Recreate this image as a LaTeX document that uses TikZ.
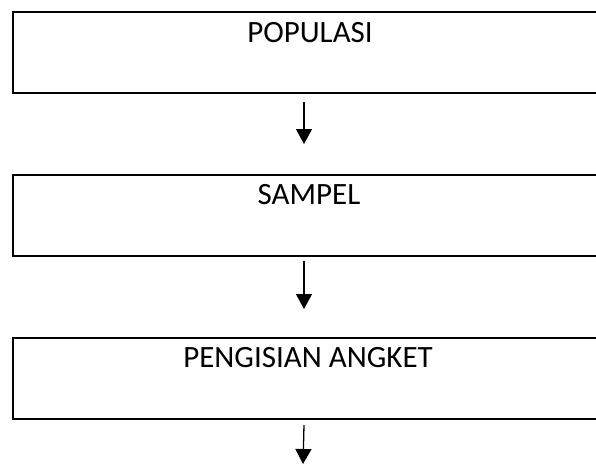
\documentclass[tikz,border=0pt]{standalone}
\usepackage{fontspec}
\setmainfont{Carlito}
\usetikzlibrary{arrows.meta}
\begin{document}
\begin{tikzpicture}[x=1pt,y=-1pt,
  stage/.style={draw, line width=2pt, minimum width=596pt, minimum height=81pt,
                inner sep=0pt, anchor=north west},
  caption/.style={font=\fontsize{31}{36}\selectfont, anchor=base, inner sep=0pt},
  flow/.style={line width=1.3pt, -{Triangle[width=16pt,length=15pt]}}]
\useasboundingbox (0,0) rectangle (596,464);
\clip (0,0) rectangle (596,464);

% stage boxes
\node[stage] (b1) at (12,11.3) {};
\node[stage] (b2) at (12,174) {};
\node[stage] (b3) at (12,336.7) {};

% stage captions
\node[caption] (t1) at (310,42) {POPULASI};
\node[caption] (t2) at (309,204.7) {SAMPEL};
\node[caption] (t3) at (308,367.4) {PENGISIAN ANGKET};

% flow arrows
\coordinate (next) at (303,464);
\draw[flow] ([xshift=-7pt,yshift=-7.5pt]b1.south) -- ([xshift=-7pt,yshift=30pt]b2.north);
\draw[flow] ([xshift=-7pt,yshift=-4.3pt]b2.south) -- ([xshift=-7pt,yshift=27.7pt]b3.north);
\draw[flow] ([xshift=-7pt,yshift=-5.3pt]b3.south) -- (next);
\end{tikzpicture}
\end{document}
